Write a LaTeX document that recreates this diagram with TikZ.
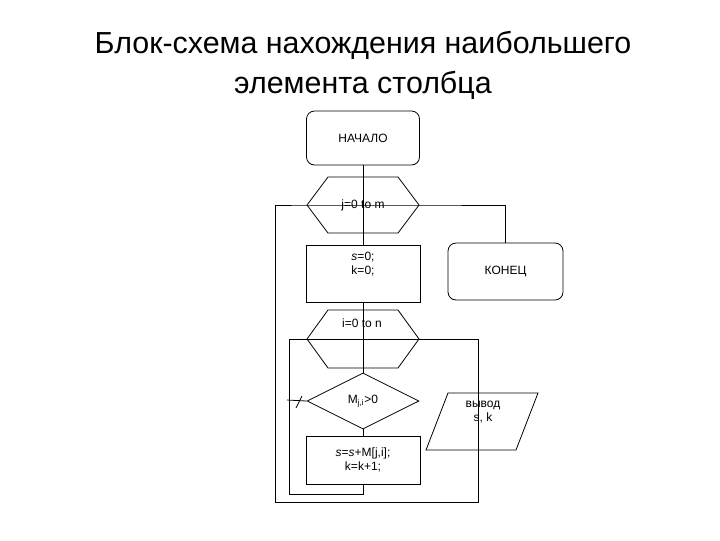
\documentclass[tikz,border=0pt]{standalone}
\usepackage{fontspec}
\setmainfont{Liberation Sans}
\usetikzlibrary{shapes.geometric}

\begin{document}
\begin{tikzpicture}[x=0.75pt, y=-0.75pt, line width=0.6pt,
        font=\fontsize{9}{11}\selectfont,
        term/.style={draw, rounded corners=6pt, minimum width=84.75pt, minimum height=40.5pt},
        proc/.style={draw, minimum width=85.5pt, align=center},
        hexbox/.style={minimum width=84pt, minimum height=42pt, inner sep=0pt, outer sep=0pt},
        decision/.style={draw, diamond, minimum width=84pt, minimum height=42pt, inner sep=0pt},
        iobox/.style={minimum width=84pt, minimum height=42.75pt, inner sep=0pt, outer sep=0pt},
        lbl/.style={align=center, inner sep=0pt}
      ]
      \useasboundingbox (0,0) rectangle (720,540);
      \node[font=\fontsize{22.8}{30}\selectfont, align=center] (title) at (363,65) {Блок-схема нахождения наибольшего\\элемента столбца};

      \node[term] (start) at (363,138) {НАЧАЛО};
      \node[hexbox] (hexj) at (363,205) {j=0 to m};
      \node[proc, minimum height=42.75pt] (init) at (363,273.5) {};
      \node[lbl] (inittext) at (363,264) {\textit{s}=0;\\k=0;};
      \node[term, minimum width=86.25pt, minimum height=42.75pt] (end) at (505.5,271.5) {КОНЕЦ};
      \node[hexbox, minimum height=43.5pt] (hexi) at (363,339) {};
      \node[lbl] (hexitext) at (362,323) {i=0 to n};
      \node[decision] (cond) at (363,401) {M\textsubscript{j,i}>0};
      \node[proc, minimum height=36pt] (body) at (363,460) {\textit{s}=\textit{s}+M[j,i];\\k=k+1;};
      \node[iobox] (out) at (482,421.5) {};
      \node[lbl] (outtext) at (483,412) {вывод\\s, k};

      % hexagons and output box
      \draw (hexj.west) -- ([xshift=15.75pt]hexj.north west) -- ([xshift=-15.75pt]hexj.north east) -- (hexj.east)
            -- ([xshift=-15.75pt]hexj.south east) -- ([xshift=15.75pt]hexj.south west) -- cycle;
      \draw (hexi.west) -- ([xshift=15.75pt]hexi.north west) -- ([xshift=-15.75pt]hexi.north east) -- (hexi.east)
            -- ([xshift=-15.75pt]hexi.south east) -- ([xshift=15.75pt]hexi.south west) -- cycle;
      \draw (out.south west) -- ([xshift=16.5pt]out.north west) -- (out.north east)
            -- ([xshift=-16.5pt]out.south east) -- cycle;

      \coordinate (jcorner) at (275,502);
      \coordinate (icorner) at (478,502);
      \coordinate (ilow) at (289,494);
      \coordinate (tick) at (287,400);

      \draw (start.south) -- (init.north);
      \draw (init.south) -- (cond.north);
      \draw (cond.south) -- (body.north);
      \draw (end.north) |- (hexj.east) -- (hexj.west) -| (jcorner) -- (icorner) |- (hexi.east)
            -- (hexi.west) -| (ilow) -| (body.south);
      \draw (tick) -- (cond.west);
      \draw ([shift={(9,8)}]tick) -- ([shift={(15,-4)}]tick);
    \end{tikzpicture}
\end{document}
